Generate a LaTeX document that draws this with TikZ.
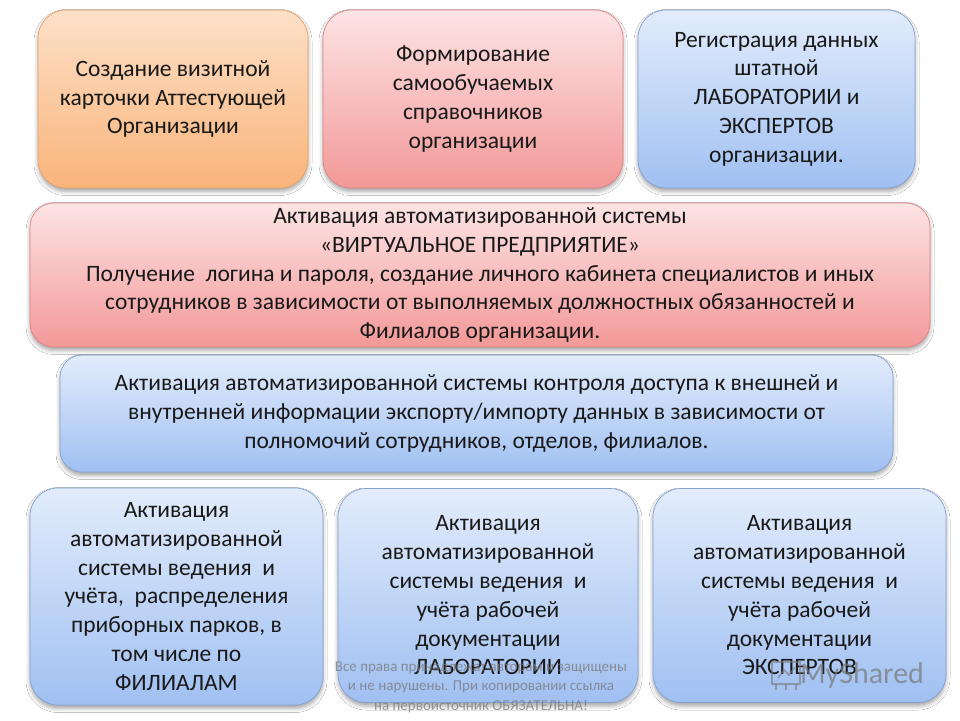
\documentclass[tikz,border=0pt]{standalone}
\usepackage{fontspec}
\setmainfont{Carlito}
\usetikzlibrary{shadows.blur}
\definecolor{orTop}{RGB}{253,224,200}
\definecolor{orBot}{RGB}{249,180,122}
\definecolor{orLine}{RGB}{232,160,105}
\definecolor{pkTop}{RGB}{253,228,228}
\definecolor{pkBot}{RGB}{243,152,152}
\definecolor{pkLine}{RGB}{222,130,130}
\definecolor{blTop}{RGB}{226,236,251}
\definecolor{blBot}{RGB}{160,192,242}
\definecolor{blLine}{RGB}{130,160,210}
\definecolor{txt}{RGB}{25,25,25}
\definecolor{wm}{RGB}{120,120,120}
\tikzset{
  card/.style={rounded corners=28pt, align=center, inner sep=0pt, text=txt,
    font=\fontsize{23.5}{28.8}\selectfont, line width=0.7pt,
    blur shadow={shadow xshift=0pt, shadow yshift=-3.5pt, shadow blur radius=4pt, shadow opacity=35}},
  orangecard/.style={card, draw=orLine, top color=orTop, bottom color=orBot},
  pinkcard/.style={card, draw=pkLine, top color=pkTop, bottom color=pkBot},
  bluecard/.style={card, draw=blLine, top color=blTop, bottom color=blBot},
  wmtext/.style={text=wm, opacity=0.75, align=center, inner sep=0pt, font=\fontsize{15}{19.5}\selectfont}
}
\begin{document}
\begin{tikzpicture}[x=1pt,y=-1pt]
\useasboundingbox[fill=white] (0,0) rectangle (960,720);

\node[orangecard, minimum width=270pt, minimum height=178pt] (b1) at (173,99)
  {Создание визитной\\карточки Аттестующей\\Организации};
\node[pinkcard, minimum width=300pt, minimum height=178pt] (b2) at (473,99)
  {Формирование\\самообучаемых\\справочников\\организации};
\node[bluecard, minimum width=277pt, minimum height=178pt] (b3) at (776.5,99)
  {Регистрация данных\\штатной\\ЛАБОРАТОРИИ и\\ЭКСПЕРТОВ\\организации.};

\node[pinkcard, rounded corners=24pt, minimum width=900pt, minimum height=144pt] (b4) at (480,275)
  {Активация автоматизированной системы\\«ВИРТУАЛЬНОЕ ПРЕДПРИЯТИЕ»\\Получение \ логина и пароля, создание личного кабинета специалистов и иных\\сотрудников в зависимости от выполняемых должностных обязанностей и\\Филиалов организации.};

\node[bluecard, rounded corners=22pt, minimum width=833pt, minimum height=117pt] (b5) at (476.5,413.5)
  {Активация автоматизированной системы контроля доступа к внешней и\\внутренней информации экспорту/импорту данных в зависимости от\\полномочий сотрудников, отделов, филиалов.};

\node[bluecard, minimum width=293pt, minimum height=217pt] (b6) at (176.5,596.5)
  {Активация\\автоматизированной\\системы ведения \ и\\учёта, \ распределения\\приборных парков, в\\том числе по\\ФИЛИАЛАМ};
\node[bluecard, minimum width=300pt, minimum height=214pt] (b7) at (488,595.5)
  {Активация\\автоматизированной\\системы ведения \ и\\учёта рабочей\\документации\\ЛАБОРАТОРИИ};
\node[bluecard, minimum width=293pt, minimum height=214pt] (b8) at (799.5,595.5)
  {Активация\\автоматизированной\\системы ведения \ и\\учёта рабочей\\документации\\ЭКСПЕРТОВ};

% watermark
\node[wmtext] (wm) at (481,687)
  {Все права принадлежат авторам и защищены\\и не нарушены. При копировании ссылка\\на первоисточник ОБЯЗАТЕЛЬНА!};

% MyShared logo
\begin{scope}[draw=wm, opacity=0.6, line width=2pt]
  \draw (772,662) rectangle (800,684);
  \draw (776,690) -- (776,684) (786,690) -- (786,684) (796,690) -- (796,684);
  \draw[line width=1.5pt] (778,678) -- (784,670) -- (789,675) -- (795,667);
\end{scope}
\node[text=wm, opacity=0.7, inner sep=0pt, font=\fontsize{30}{30}\selectfont] (logo) at (862,675) {MyShared};
\end{tikzpicture}
\end{document}
